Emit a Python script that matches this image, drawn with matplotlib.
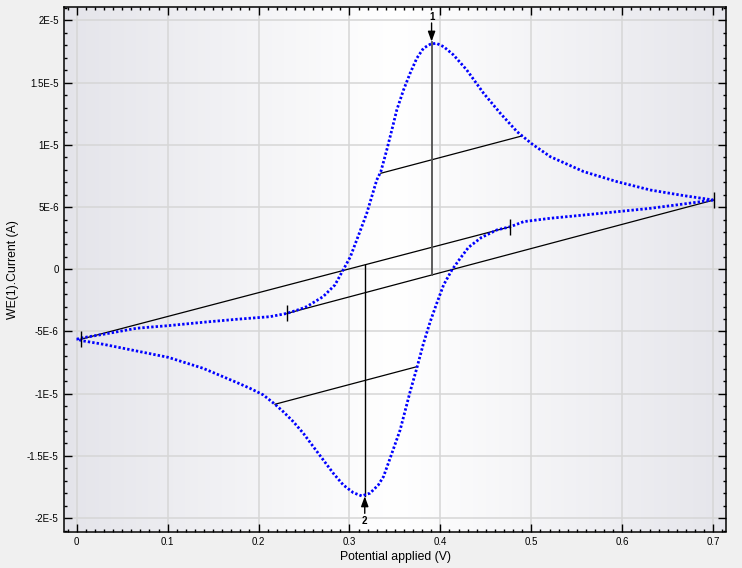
import numpy as np
import matplotlib
matplotlib.use("Agg")
import matplotlib.pyplot as plt
from matplotlib.ticker import MultipleLocator, FixedLocator, FixedFormatter

plt.rcParams['font.family'] = ['Liberation Sans', 'DejaVu Sans']

# ---------------- data (potential in V, current in microampere) ----------------
fwd_potential = [0.000, 0.007, 0.029, 0.066, 0.101, 0.139, 0.176, 0.2126, 0.231, 0.246, 0.253,
                 0.271, 0.284, 0.293, 0.301, 0.308, 0.3135, 0.319, 0.3245, 0.330, 0.3345,
                 0.341, 0.3466, 0.352, 0.3594, 0.3667, 0.374, 0.3814, 0.3888, 0.3954, 0.4035,
                 0.4144, 0.429, 0.4475, 0.4659, 0.4843, 0.5008, 0.5209, 0.5576, 0.5944, 0.631,
                 0.6677, 0.700]
fwd_current_uA = [-5.62, -5.50, -5.23, -4.74, -4.53, -4.26, -4.02, -3.81, -3.55, -3.20, -3.00,
                  -2.20, -1.26, -0.06, 1.01, 2.36, 3.42, 4.50, 5.84, 7.18, 7.85,
                  9.59, 11.20, 12.80, 14.41, 15.76, 16.96, 17.77, 18.09, 18.17, 17.90,
                  17.23, 16.02, 14.15, 12.54, 11.06, 10.07, 9.05, 7.85, 7.04, 6.37,
                  5.92, 5.57]

rev_potential = [0.700, 0.6677, 0.631, 0.5944, 0.5576, 0.5209, 0.4916, 0.4769, 0.462, 0.445,
                 0.431, 0.4218, 0.4126, 0.4035, 0.396, 0.3888, 0.3814, 0.374, 0.3667, 0.3557,
                 0.3447, 0.3374, 0.3317, 0.3226, 0.3134, 0.3042, 0.2932, 0.2822, 0.2712, 0.2602,
                 0.2492, 0.2382, 0.2272, 0.218, 0.2052, 0.1906, 0.176, 0.139, 0.1007, 0.066,
                 0.0293, 0.0073, 0.000]
rev_current_uA = [5.57, 5.25, 4.90, 4.63, 4.36, 4.10, 3.83, 3.42, 3.16, 2.55,
                  1.77, 0.88, -0.06, -1.26, -2.73, -4.21, -5.95, -7.96, -9.84, -12.92,
                  -15.19, -16.67, -17.34, -18.00, -18.22, -17.96, -17.34, -16.40, -15.33, -14.26,
                  -13.18, -12.25, -11.45, -10.85, -10.10, -9.57, -9.10, -7.96, -7.08, -6.57,
                  -6.03, -5.76, -5.62]

# baselines (end points marked with ticks)
baseline1_potential = [0.0047, 0.4769]
baseline1_current_uA = [-5.62, 3.42]
baseline2_potential = [0.2313, 0.7008]
baseline2_current_uA = [-3.55, 5.57]

# half-height lines
half1_potential = [0.3345, 0.4898]
half1_current_uA = [7.72, 10.72]
half2_potential = [0.2181, 0.3741]
half2_current_uA = [-10.85, -7.83]

# peaks
peak_labels = ['1', '2']
peak_potential = [0.3903, 0.3168]
peak_current_uA = [18.30, -18.25]

ytick_values = [-2e-5, -1.5e-5, -1e-5, -5e-6, 0, 5e-6, 1e-5, 1.5e-5, 2e-5]
ytick_labels = ['-2E-5', '-1.5E-5', '-1E-5', '-5E-6', '0', '5E-6', '1E-5', '1.5E-5', '2E-5']
xtick_values = [0, 0.1, 0.2, 0.3, 0.4, 0.5, 0.6, 0.7]
xtick_labels = ['0', '0.1', '0.2', '0.3', '0.4', '0.5', '0.6', '0.7']

uA = 1e-6

# ---------------- figure ----------------
fig = plt.figure(figsize=(7.42, 5.68), dpi=100, facecolor='#f0f0f0')
ax = fig.add_axes([64.3 / 742, 1 - 531.5 / 568, (726 - 64.3) / 742, (531.5 - 7.3) / 568])

xlim = (-0.01364, 0.7141)
ylim = (-21.08e-6, 21.06e-6)
ax.set_xlim(*xlim)
ax.set_ylim(*ylim)

# background gradient (light lavender edges, white centre)
t = np.linspace(0, 1, 600)
left_c = np.array([0.895, 0.895, 0.918])
right_c = np.array([0.900, 0.900, 0.922])
white = np.array([1.0, 1.0, 1.0])
grad = np.zeros((1, t.size, 3))
for i, tv in enumerate(t):
    if tv < 0.5:
        f = tv / 0.5
        grad[0, i] = left_c + (white - left_c) * f
    else:
        f = (1 - tv) / 0.5
        grad[0, i] = right_c + (white - right_c) * f
ax.imshow(grad, extent=[0, 1, 0, 1], transform=ax.transAxes, aspect='auto', zorder=0)

ax.grid(True, which='major', color='#d6d6d6', linewidth=1.1, zorder=1)
ax.set_axisbelow(True)

# baselines & half-height lines
for px, py in [(baseline1_potential, baseline1_current_uA), (baseline2_potential, baseline2_current_uA),
               (half1_potential, half1_current_uA), (half2_potential, half2_current_uA)]:
    ax.plot(px, np.array(py) * uA, color='black', lw=0.9, zorder=3)

# end ticks of the baselines
tick_pot = baseline1_potential + baseline2_potential
tick_cur = np.array(baseline1_current_uA + baseline2_current_uA) * uA
ax.plot(tick_pot, tick_cur, linestyle='none', marker='|', ms=11.5, mew=1.0, color='black', zorder=6)

# peak vertical lines to the baselines
base1 = np.interp(peak_potential[0], baseline2_potential, baseline2_current_uA)
base2 = np.interp(peak_potential[1], baseline1_potential, baseline1_current_uA)
ax.plot([peak_potential[0], peak_potential[0]], [base1 * uA, peak_current_uA[0] * uA],
        color='#505050', lw=1.3, zorder=3)
ax.plot([peak_potential[1], peak_potential[1]], [base2 * uA, peak_current_uA[1] * uA],
        color='black', lw=1.0, zorder=3)

# CV curve (dense dotted points)
for px, py in [(fwd_potential, fwd_current_uA), (rev_potential, rev_current_uA)]:
    ax.plot(px, np.array(py) * uA, color='#0000ff', lw=2.0,
            linestyle=(0, (0.85, 0.75)), zorder=5)

# peak arrows and labels
arrow_style = '-|>,head_length=0.6,head_width=0.22'
ax.annotate('', xy=(peak_potential[0], peak_current_uA[0] * uA), xytext=(peak_potential[0], 19.8 * uA),
            arrowprops=dict(arrowstyle=arrow_style, color='black', lw=1.0, shrinkA=0, shrinkB=0,
                            mutation_scale=10), zorder=7)
ax.text(peak_potential[0], 20.32 * uA, peak_labels[0], ha='center', va='center', fontsize=7,
        fontweight='bold', zorder=7)
ax.annotate('', xy=(peak_potential[1], peak_current_uA[1] * uA), xytext=(peak_potential[1], -19.62 * uA),
            arrowprops=dict(arrowstyle=arrow_style, color='black', lw=1.0, shrinkA=0, shrinkB=0,
                            mutation_scale=10), zorder=7)
ax.text(peak_potential[1], -20.25 * uA, peak_labels[1], ha='center', va='center', fontsize=7,
        fontweight='bold', zorder=7)

# ticks
ax.xaxis.set_major_locator(FixedLocator(xtick_values))
ax.xaxis.set_major_formatter(FixedFormatter(xtick_labels))
ax.xaxis.set_minor_locator(MultipleLocator(0.01))
ax.yaxis.set_major_locator(FixedLocator(ytick_values))
ax.yaxis.set_major_formatter(FixedFormatter(ytick_labels))
ax.yaxis.set_minor_locator(MultipleLocator(1e-6))
ax.tick_params(which='both', direction='in', top=True, right=True, color='black')
ax.tick_params(which='major', length=5.5, width=1.0, labelsize=7, pad=4)
ax.tick_params(which='minor', length=2.3, width=1.0)

for sp in ax.spines.values():
    sp.set_color('black')
    sp.set_linewidth(1.1)

ax.set_xlabel('Potential applied (V)', fontsize=8.8, labelpad=3)
ax.set_ylabel('WE(1).Current (A)', fontsize=8.8, labelpad=6)

fig.savefig('out.png', dpi=100, facecolor=fig.get_facecolor())
